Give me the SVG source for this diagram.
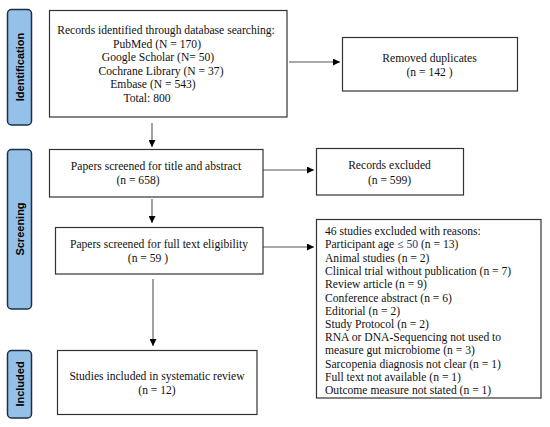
<svg xmlns="http://www.w3.org/2000/svg" width="550" height="427" viewBox="0 0 550 427">
<defs>
<style>
.phase{fill:#95c1e9;stroke:#1d2f45;stroke-width:1.5}
.pl{font-family:"Liberation Sans",Arial,sans-serif;font-weight:bold;font-size:11px;fill:#000;text-anchor:middle}
.box{fill:#fff;stroke:#333;stroke-width:1.2}
.t{font-family:"Liberation Serif","Times New Roman",serif;font-size:11.6px;fill:#111}
.c{text-anchor:middle}
.con{stroke:#555;stroke-width:1.1;fill:none;marker-end:url(#ah)}
</style>
<marker id="ah" viewBox="0 0 10 10" refX="10" refY="5" markerWidth="7" markerHeight="7" markerUnits="userSpaceOnUse" orient="auto">
<path d="M0,0 L10,5 L0,10 z" fill="#000"/>
</marker>
</defs>
<rect width="550" height="427" fill="#fff"/>

<g id="phase-identification">
<rect class="phase" x="7.5" y="9.5" width="24" height="115.5" rx="4"/>
<text class="pl" transform="translate(23.5,67) rotate(-90)">Identification</text>
</g>
<g id="phase-screening">
<rect class="phase" x="7.5" y="149.5" width="24" height="159.5" rx="4"/>
<text class="pl" transform="translate(23.5,229) rotate(-90)">Screening</text>
</g>
<g id="phase-included">
<rect class="phase" x="7.5" y="350.5" width="24" height="67.5" rx="4"/>
<text class="pl" transform="translate(23.5,384) rotate(-90)">Included</text>
</g>

<g id="connectors">
<line class="con" x1="152" y1="123" x2="152" y2="147"/>
<line class="con" x1="289" y1="62" x2="340" y2="62"/>
<line class="con" x1="263" y1="170" x2="314" y2="170"/>
<line class="con" x1="152" y1="199" x2="152" y2="223"/>
<line class="con" x1="263" y1="247" x2="314" y2="247"/>
<line class="con" x1="153" y1="279" x2="153" y2="346"/>
</g>

<g id="records-identified">
<rect class="box" x="49.5" y="10.5" width="237.5" height="106.5"/>
<text class="t c" x="166" y="34">Records identified through database searching:</text>
<text class="t c" x="157" y="47.5">PubMed (N = 170)</text>
<text class="t c" x="158" y="61">Google Scholar (N= 50)</text>
<text class="t c" x="161" y="74.5">Cochrane Library (N = 37)</text>
<text class="t c" x="153" y="88">Embase (N = 543)</text>
<text class="t c" x="147" y="101.5">Total: 800</text>
</g>

<g id="removed-duplicates">
<rect class="box" x="342.5" y="37.5" width="175" height="53.5"/>
<text class="t c" x="429.5" y="62">Removed duplicates</text>
<text class="t c" x="429.5" y="76">(n = 142 )</text>
</g>

<g id="screened-title">
<rect class="box" x="49.5" y="149.5" width="213.5" height="47.5"/>
<text class="t c" x="156" y="170">Papers screened for title and abstract</text>
<text class="t c" x="138" y="184">(n = 658)</text>
</g>

<g id="records-excluded">
<rect class="box" x="316.5" y="148.5" width="147" height="46.5"/>
<text class="t c" x="389.5" y="169">Records excluded</text>
<text class="t c" x="389.5" y="184">(n = 599)</text>
</g>

<g id="screened-full-text">
<rect class="box" x="55.5" y="227.5" width="207.5" height="46.5"/>
<text class="t c" x="159" y="248">Papers screened for full text eligibility</text>
<text class="t c" x="148" y="262">(n = 59 )</text>
</g>

<g id="excluded-reasons">
<rect class="box" x="316.5" y="219.5" width="224.5" height="178.5"/>
<text class="t" x="325" y="235">46 studies excluded with reasons:</text>
<text class="t" x="325" y="248">Participant age <tspan fill="#24357a">≤ 50</tspan> (n = 13)</text>
<text class="t" x="325" y="261.5">Animal studies (n = 2)</text>
<text class="t" x="325" y="275">Clinical trial without publication (n = 7)</text>
<text class="t" x="325" y="288">Review article (n = 9)</text>
<text class="t" x="325" y="301.5">Conference abstract (n = 6)</text>
<text class="t" x="325" y="314.5">Editorial (n = 2)</text>
<text class="t" x="325" y="328">Study Protocol (n = 2)</text>
<text class="t" x="325" y="341">RNA or DNA-Sequencing not used to</text>
<text class="t" x="325" y="354">measure gut microbiome (n = 3)</text>
<text class="t" x="325" y="367.5">Sarcopenia diagnosis not clear (n = 1)</text>
<text class="t" x="325" y="381">Full text not available (n = 1)</text>
<text class="t" x="325" y="394">Outcome measure not stated (n = 1)</text>
</g>

<g id="studies-included">
<rect class="box" x="57.5" y="350.5" width="199.5" height="64"/>
<text class="t c" x="157" y="380">Studies included in systematic review</text>
<text class="t c" x="157" y="394">(n = 12)</text>
</g>
</svg>
